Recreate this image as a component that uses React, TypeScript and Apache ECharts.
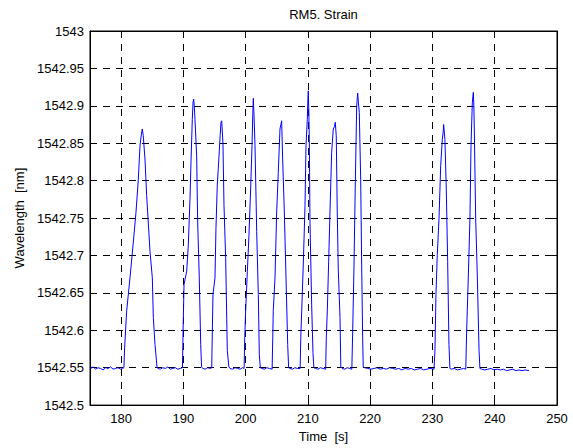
import React, { useEffect, useRef } from "react";
import * as echarts from "echarts";

const chartTitle = "RM5. Strain";
const xAxisName = "Time  [s]";
const yAxisName = "Wavelength  [nm]";

const timeS: number[] = [
  175.1, 175.5, 175.9, 176.3, 176.7, 177.1, 177.5, 177.9, 178.3, 178.7, 179.1, 179.5, 179.9, 180.2, 180.45,
  180.55, 180.89, 181.42, 181.96, 182.39, 182.76, 183.03, 183.25, 183.4, 183.55, 183.83, 184.1, 184.64, 185.01, 185.17, 185.44, 185.75,
  185.9, 186.3, 186.7, 187.1, 187.5, 187.9, 188.3, 188.7, 189.1, 189.5, 189.85,
  189.95, 190.1, 190.53, 190.79, 191.06, 191.22, 191.43, 191.55, 191.65, 191.75, 191.86, 192.13, 192.29, 192.55, 192.78, 192.92,
  193.1, 193.5, 193.9, 194.3, 194.55,
  194.65, 194.75, 195.07, 195.23, 195.44, 195.72, 195.9, 196.04, 196.15, 196.35, 196.52, 196.79, 197.05, 197.3,
  197.5, 197.9, 198.3, 198.7, 199.1, 199.5, 199.75,
  199.85, 200.0, 200.27, 200.53, 200.8, 201.02, 201.15, 201.23, 201.35, 201.5, 201.77, 202.03, 202.19, 202.35,
  202.6, 203.0, 203.4, 203.8, 204.25,
  204.35, 204.43, 204.71, 204.98, 205.24, 205.51, 205.65, 205.78, 205.94, 206.21, 206.48, 206.75, 206.9,
  207.1, 207.5, 207.9, 208.3, 208.75,
  208.85, 209.0, 209.25, 209.53, 209.69, 209.9, 210.0, 210.06, 210.15, 210.22, 210.33, 210.6, 210.81, 210.95,
  211.2, 211.6, 212.0, 212.4, 212.85,
  212.95, 213.11, 213.33, 213.54, 213.81, 214.07, 214.25, 214.39, 214.55, 214.71, 214.87, 215.15, 215.28,
  215.5, 215.9, 216.3, 216.7, 217.05,
  217.19, 217.4, 217.61, 217.83, 217.99, 218.1, 218.25, 218.47, 218.63, 218.79, 218.88,
  219.1, 219.6, 220.1, 220.6, 221.1, 221.6, 222.1, 222.6, 223.1, 223.6, 224.1, 224.6, 225.1, 225.6, 226.1, 226.6, 227.1, 227.6, 228.1, 228.6, 229.1, 229.6, 230.25,
  230.4, 230.56, 230.77, 231.05, 231.32, 231.58, 231.72, 231.8, 232.0, 232.22, 232.44, 232.65, 232.8,
  233.0, 233.5, 234.0, 234.5, 235.0, 235.35,
  235.49, 235.75, 236.02, 236.19, 236.4, 236.56, 236.65, 236.72, 236.94, 237.21, 237.48, 237.62,
  237.9, 238.4, 238.9, 239.4, 239.9, 240.4, 240.9, 241.4, 241.9, 242.4, 242.9, 243.4, 243.9, 244.4, 244.9, 245.5,
];

const wavelengthNm: number[] = [
  1542.549, 1542.551, 1542.548, 1542.55, 1542.549, 1542.547, 1542.55, 1542.549, 1542.551, 1542.548, 1542.549, 1542.55, 1542.548, 1542.549, 1542.55,
  1542.575, 1542.626, 1542.67, 1542.718, 1542.758, 1542.802, 1542.847, 1542.862, 1542.869, 1542.86, 1542.829, 1542.78, 1542.705, 1542.67, 1542.617, 1542.581, 1542.552,
  1542.549, 1542.548, 1542.55, 1542.549, 1542.551, 1542.548, 1542.549, 1542.55, 1542.548, 1542.549, 1542.55,
  1542.6, 1542.661, 1542.679, 1542.714, 1542.776, 1542.825, 1542.882, 1542.905, 1542.909, 1542.9, 1542.882, 1542.833, 1542.745, 1542.67, 1542.581, 1542.551,
  1542.549, 1542.548, 1542.55, 1542.549, 1542.55,
  1542.6, 1542.648, 1542.67, 1542.736, 1542.794, 1542.833, 1542.86, 1542.878, 1542.88, 1542.85, 1542.767, 1542.696, 1542.573, 1542.551,
  1542.549, 1542.548, 1542.55, 1542.549, 1542.548, 1542.55, 1542.549,
  1542.59, 1542.626, 1542.679, 1542.727, 1542.789, 1542.847, 1542.89, 1542.91, 1542.885, 1542.847, 1542.732, 1542.648, 1542.568, 1542.55,
  1542.549, 1542.548, 1542.55, 1542.549, 1542.548,
  1542.59, 1542.626, 1542.67, 1542.758, 1542.811, 1542.869, 1542.875, 1542.88, 1542.829, 1542.758, 1542.67, 1542.581, 1542.55,
  1542.549, 1542.548, 1542.55, 1542.549, 1542.549,
  1542.59, 1542.626, 1542.687, 1542.767, 1542.847, 1542.882, 1542.91, 1542.92, 1542.89, 1542.855, 1542.745, 1542.634, 1542.57, 1542.55,
  1542.549, 1542.548, 1542.55, 1542.549, 1542.548,
  1542.59, 1542.626, 1542.692, 1542.758, 1542.838, 1542.869, 1542.872, 1542.878, 1542.86, 1542.758, 1542.682, 1542.617, 1542.551,
  1542.549, 1542.548, 1542.55, 1542.549, 1542.548,
  1542.599, 1542.687, 1542.798, 1542.9, 1542.917, 1542.905, 1542.891, 1542.802, 1542.687, 1542.59, 1542.551,
  1542.55, 1542.549, 1542.548, 1542.549, 1542.55, 1542.548, 1542.549, 1542.548, 1542.55, 1542.549, 1542.548, 1542.549, 1542.547, 1542.549, 1542.548, 1542.549, 1542.547, 1542.548, 1542.549, 1542.547, 1542.548, 1542.549, 1542.548,
  1542.573, 1542.648, 1542.7, 1542.749, 1542.82, 1542.855, 1542.865, 1542.875, 1542.855, 1542.789, 1542.692, 1542.581, 1542.549,
  1542.548, 1542.549, 1542.547, 1542.548, 1542.549, 1542.548,
  1542.599, 1542.67, 1542.749, 1542.847, 1542.904, 1542.918, 1542.9, 1542.869, 1542.749, 1542.67, 1542.573, 1542.549,
  1542.548, 1542.547, 1542.548, 1542.549, 1542.547, 1542.548, 1542.547, 1542.548, 1542.546, 1542.547, 1542.548, 1542.546, 1542.547, 1542.546, 1542.547, 1542.546,
];

const FONT = "'Liberation Sans', Arial, Helvetica, sans-serif";

export default function App() {
  const ref = useRef<HTMLDivElement>(null);
  useEffect(() => {
    if (!ref.current) return;
    const chart = echarts.init(ref.current, undefined, { renderer: "svg" });
    const data = timeS.map((t, i) => [t, wavelengthNm[i]]);
    const gridLine = { show: true, lineStyle: { color: "#000", width: 1, type: [7, 6] as any } };
    const axisLine = { show: true, lineStyle: { color: "#000", width: 1 } };
    const tick = { show: true, inside: true, length: 5, lineStyle: { color: "#000", width: 1 } };
    const xCommon = {
      type: "value" as const,
      min: 175,
      max: 250,
      splitNumber: 8,
      minInterval: 10,
      maxInterval: 10,
      axisLine,
      axisTick: tick,
    };
    const yCommon = {
      type: "value" as const,
      min: 1542.5,
      max: 1543,
      interval: 0.05,
      axisLine,
      axisTick: tick,
    };
    chart.setOption({
      animation: false,
      backgroundColor: "#fff",
      textStyle: { fontFamily: FONT },
      grid: { left: 90, top: 31, right: 16, bottom: 40, show: true, borderColor: "#000", borderWidth: 1, backgroundColor: "transparent" },
      graphic: [
        {
          type: "text",
          x: 323.5,
          y: 14.5,
          style: { text: chartTitle, fontSize: 13, fontFamily: FONT, fill: "#000", textAlign: "center", textVerticalAlign: "middle" },
        },
      ],
      xAxis: [
        {
          ...xCommon,
          position: "bottom",
          name: xAxisName,
          nameLocation: "middle",
          nameGap: 24,
          nameTextStyle: { fontSize: 13, color: "#000", fontFamily: FONT },
          axisLabel: {
            color: "#000",
            fontSize: 13,
            margin: 7,
            fontFamily: FONT,
            formatter: (v: number) => (v === 175 ? "" : String(Math.round(v))),
          },
          splitLine: gridLine,
        },
        {
          ...xCommon,
          position: "top",
          axisLabel: { show: false },
          splitLine: { show: false },
        },
      ],
      yAxis: [
        {
          ...yCommon,
          position: "left",
          name: yAxisName,
          nameLocation: "middle",
          nameGap: 62,
          nameTextStyle: { fontSize: 13, color: "#000", fontFamily: FONT },
          axisLabel: {
            color: "#000",
            fontSize: 13,
            margin: 6,
            fontFamily: FONT,
            formatter: (v: number) => String(Math.round(v * 100) / 100),
          },
          splitLine: gridLine,
        },
        {
          ...yCommon,
          position: "right",
          axisLabel: { show: false },
          splitLine: { show: false },
        },
      ],
      series: [
        {
          type: "line",
          data,
          xAxisIndex: 0,
          yAxisIndex: 0,
          showSymbol: false,
          symbol: "none",
          lineStyle: { color: "#0000ff", width: 1 },
          itemStyle: { color: "#0000ff" },
          z: 3,
        },
      ],
    });
    return () => chart.dispose();
  }, []);
  return (
    <div
      ref={ref}
      style={{ position: "fixed", left: 0, top: 0, width: 573, height: 448, background: "#fff" }}
    />
  );
}
